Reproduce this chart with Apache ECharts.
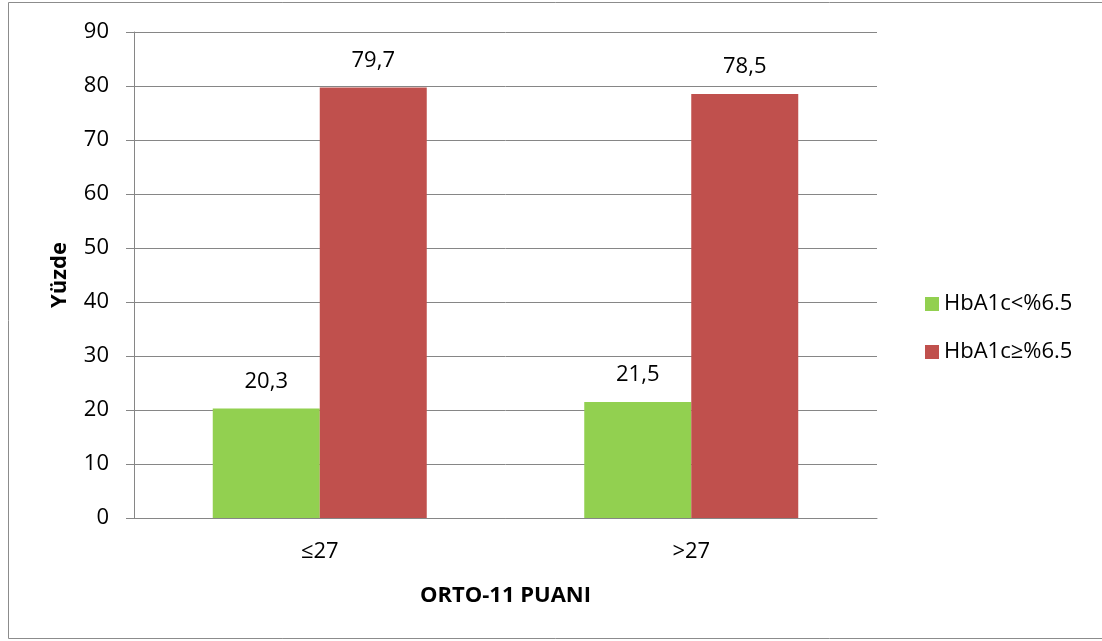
<!DOCTYPE html>
<html>
<head>
<meta charset="utf-8">
<script src="https://cdn.jsdelivr.net/npm/echarts@6/dist/echarts.min.js"></script>
<style>
  html, body { margin: 0; padding: 0; background: #ffffff; }
  #chart { width: 1102px; height: 641px; }
</style>
</head>
<body>
<div id="chart"></div>
<script>
// Score groups on the x axis
const categories = ['≤27', '>27'];
// Percentage of patients per HbA1c group
const seriesNames = ['HbA1c<%6.5', 'HbA1c≥%6.5'];
const lowHbA1c = [20.3, 21.5];
const highHbA1c = [79.7, 78.5];
const seriesColors = ['#92D050', '#C0504D'];

const FONT = '"Open Sans", "Liberation Sans", sans-serif';
const FS = 22;

const chart = echarts.init(document.getElementById('chart'));

const labelStyle = {
  show: true,
  position: 'top',
  distance: 16,
  fontFamily: FONT,
  fontSize: FS,
  color: '#000',
  formatter: p => String(p.value).replace('.', ',')
};

chart.setOption({
  animation: false,
  backgroundColor: '#ffffff',
  graphic: [{
    type: 'rect',
    shape: { x: 8.5, y: 2.5, width: 1100, height: 636 },
    style: { fill: 'none', stroke: '#8c8c8c', lineWidth: 1 },
    silent: true
  }],
  grid: { left: 134, right: 225, top: 32, bottom: 123 },
  legend: {
    orient: 'vertical',
    left: 920,
    top: 288,
    itemWidth: 14,
    itemHeight: 14,
    itemGap: 26,
    icon: 'rect',
    textStyle: { fontFamily: FONT, fontSize: FS, color: '#000' },
    data: seriesNames
  },
  xAxis: {
    type: 'category',
    data: categories,
    name: 'ORTO-11 PUANI',
    nameLocation: 'middle',
    nameGap: 67,
    nameTextStyle: { fontFamily: FONT, fontSize: FS, fontWeight: 'bold', color: '#000' },
    axisLine: { lineStyle: { color: '#868686', width: 1 } },
    axisTick: { show: false },
    axisLabel: { fontFamily: FONT, fontSize: FS, color: '#000', margin: 23 }
  },
  yAxis: {
    type: 'value',
    min: 0,
    max: 90,
    interval: 10,
    name: 'Yüzde',
    nameLocation: 'middle',
    nameGap: 63,
    nameTextStyle: { fontFamily: FONT, fontSize: FS, fontWeight: 'bold', color: '#000' },
    axisLine: { show: true, lineStyle: { color: '#868686', width: 1 } },
    axisTick: { show: true, length: 8, lineStyle: { color: '#868686' } },
    axisLabel: { fontFamily: FONT, fontSize: FS, color: '#000', margin: 25 },
    splitLine: { lineStyle: { color: '#868686', width: 1 } }
  },
  series: [
    {
      name: seriesNames[0],
      type: 'bar',
      data: lowHbA1c,
      barWidth: 107,
      barGap: '0%',
      itemStyle: { color: seriesColors[0] },
      label: labelStyle
    },
    {
      name: seriesNames[1],
      type: 'bar',
      data: highHbA1c,
      barWidth: 107,
      barGap: '0%',
      itemStyle: { color: seriesColors[1] },
      label: labelStyle
    }
  ]
});
</script>
</body>
</html>
